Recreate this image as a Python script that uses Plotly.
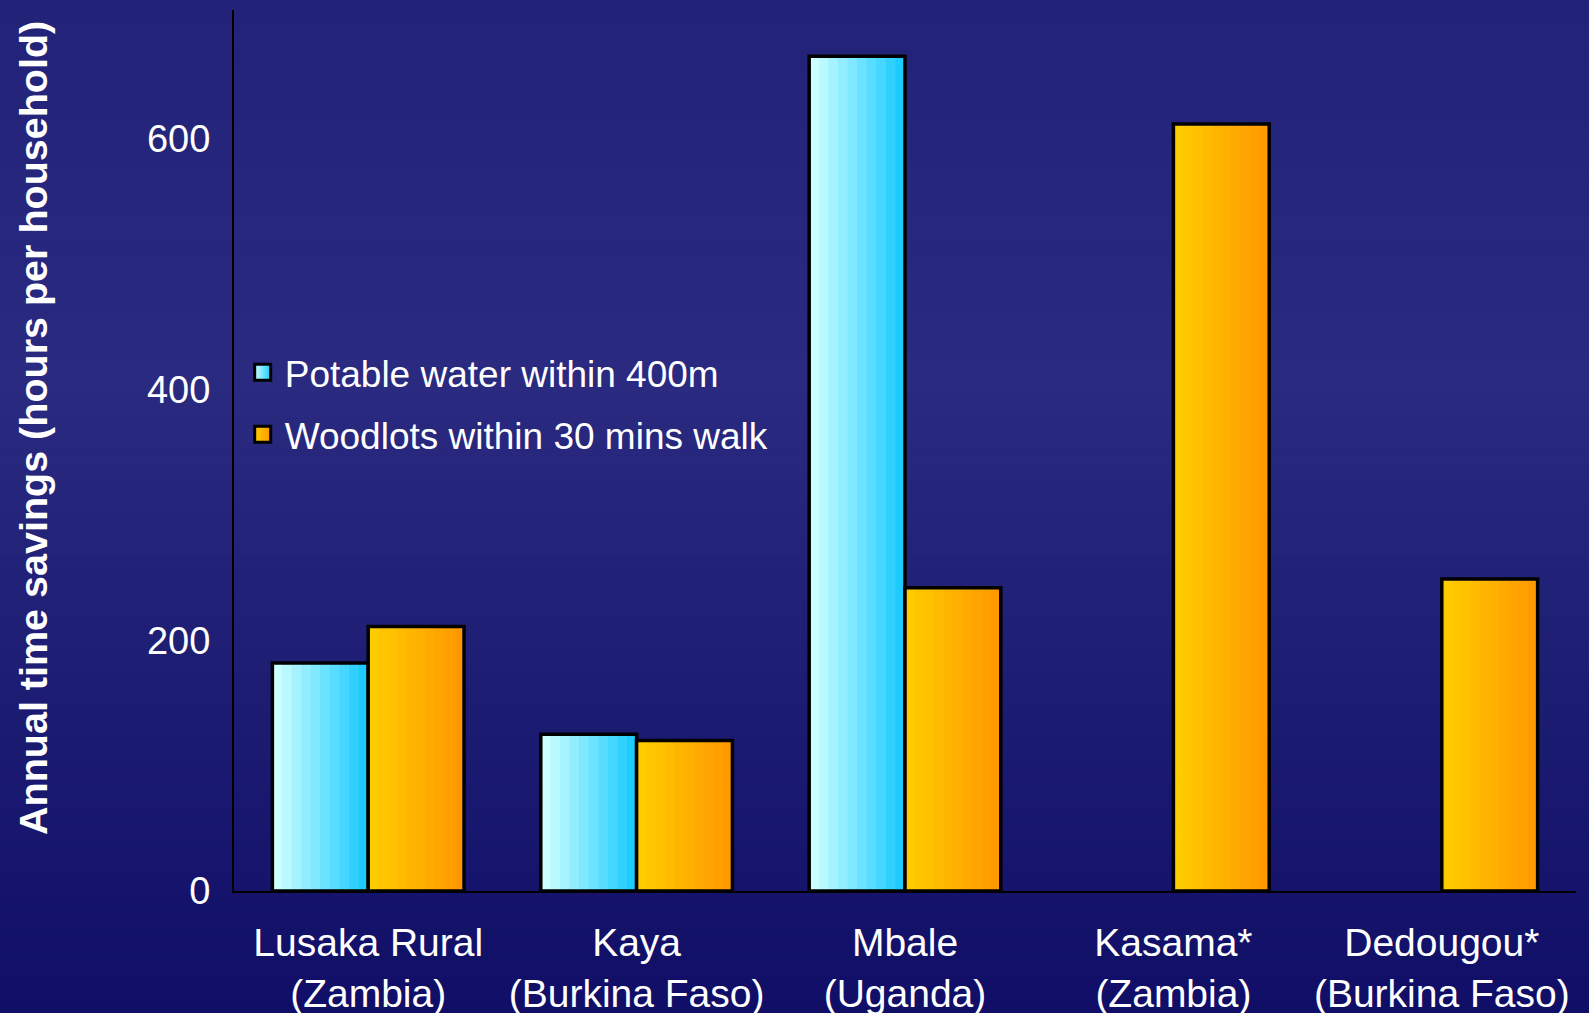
import plotly.graph_objects as go

# ---------------- data ----------------
categories = ["Lusaka Rural<br>(Zambia)", "Kaya<br>(Burkina Faso)", "Mbale<br>(Uganda)",
              "Kasama*<br>(Zambia)", "Dedougou*<br>(Burkina Faso)"]
series_names = ["Potable water within 400m", "Woodlots within 30 mins walk"]
water = [182, 125, 666, None, None]
woodlots = [211, 120, 242, 612, 249]
y_tick_values = [0, 200, 400, 600]
y_title = "Annual time savings (hours per household)"

# ---------------- styling ----------------
W_FIG, H_FIG = 1589, 1013
M_L, M_R, M_T, M_B = 234, 13, 10, 122
BAR_W = 0.357
N_STRIPS = 10
FONT = "Arial, Liberation Sans, sans-serif"

water_cols = ((204, 255, 255), (30, 203, 255))
wood_cols = ((255, 204, 0), (255, 153, 0))


def lerp(c0, c1, t):
    return "rgb(%d,%d,%d)" % tuple(round(a + (b - a) * t) for a, b in zip(c0, c1))


xs = list(range(len(categories)))
fig = go.Figure()

for vals, cols, base in ((water, water_cols, -BAR_W), (woodlots, wood_cols, 0.0)):
    sw = BAR_W / N_STRIPS
    for k in range(N_STRIPS):
        t = k / (N_STRIPS - 1)
        fig.add_trace(go.Bar(
            x=xs, y=vals, width=sw * (1.0 if k == N_STRIPS - 1 else 1.15),
            offset=base + k * sw,
            marker=dict(color=lerp(cols[0], cols[1], t), line=dict(width=0)),
            showlegend=False, hoverinfo="skip"))
    fig.add_trace(go.Bar(
        x=xs, y=vals, width=BAR_W, offset=base,
        marker=dict(color="rgba(0,0,0,0)", line=dict(color="black", width=3.5)),
        showlegend=False, hoverinfo="y"))

# legend entries
for name, cols in zip(series_names, (water_cols, wood_cols)):
    fig.add_trace(go.Scatter(
        x=[None], y=[None], mode="markers", name=name, legendgroup=name,
        marker=dict(symbol="square", size=16, color=lerp(*cols, 0.0),
                    gradient=dict(type="horizontal", color=lerp(*cols, 1.0)),
                    line=dict(color="black", width=3))))

# background vertical gradient (strips in paper coords)
plot_h = H_FIG - M_T - M_B
plot_w = W_FIG - M_L - M_R
y_bot = -M_B / plot_h
y_top = 1 + M_T / plot_h
x_left = -M_L / plot_w
x_right = 1 + M_R / plot_w
stops = [(0.0, (34, 34, 120)), (0.38, (42, 42, 128)), (1.0, (16, 14, 102))]


def bg_color(f):
    for (f0, c0), (f1, c1) in zip(stops[:-1], stops[1:]):
        if f0 <= f <= f1:
            return lerp(c0, c1, (f - f0) / (f1 - f0))
    return lerp(stops[-1][1], stops[-1][1], 0)


shapes = []
NB = 80
for i in range(NB):
    f0 = i / NB
    f1 = (i + 1.05) / NB
    shapes.append(dict(
        type="rect", xref="paper", yref="paper", layer="below",
        x0=x_left, x1=x_right,
        y0=y_top - (y_top - y_bot) * min(f1, 1.0), y1=y_top - (y_top - y_bot) * f0,
        fillcolor=bg_color((i + 0.5) / NB), line=dict(width=0)))

# y-axis title placed as a rotated annotation (off-centre like the original)
title_x_px = 33
title_y_px = 428
annotations = [dict(
    text="<b>%s</b>" % y_title, textangle=-90, showarrow=False,
    xref="paper", yref="paper",
    x=(title_x_px - M_L) / plot_w, y=(H_FIG - M_B - title_y_px) / plot_h,
    xanchor="center", yanchor="middle",
    font=dict(size=39.5, color="white", family=FONT))]

fig.update_layout(
    width=W_FIG, height=H_FIG,
    margin=dict(l=M_L, r=M_R, t=M_T, b=M_B, pad=0, autoexpand=False),
    paper_bgcolor="rgb(34,34,118)", plot_bgcolor="rgba(0,0,0,0)",
    barmode="overlay", shapes=shapes, annotations=annotations,
    font=dict(family=FONT, color="white"),
    showlegend=True,
    legend=dict(x=0.005, y=0.6235, xanchor="left", yanchor="top",
                bgcolor="rgba(0,0,0,0)", font=dict(size=37, color="white"),
                tracegroupgap=11, itemwidth=34),
    xaxis=dict(range=[-0.5, len(categories) - 0.5], tickmode="array",
               tickvals=xs, ticktext=categories, showgrid=False, zeroline=False,
               showline=True, linecolor="black", linewidth=2, ticks="",
               automargin=False,
               tickfont=dict(size=39, color="white"), ticklabelstandoff=16),
    yaxis=dict(range=[0, 703], tickmode="array", tickvals=y_tick_values,
               showgrid=False, zeroline=False, showline=True, linecolor="black",
               linewidth=2, ticks="", automargin=False,
               tickfont=dict(size=38, color="white"),
               ticklabelstandoff=14),
)

fig.write_html("out.html", config={"displayModeBar": False},
               post_script="document.body.style.margin='0';document.body.style.overflow='hidden';")
